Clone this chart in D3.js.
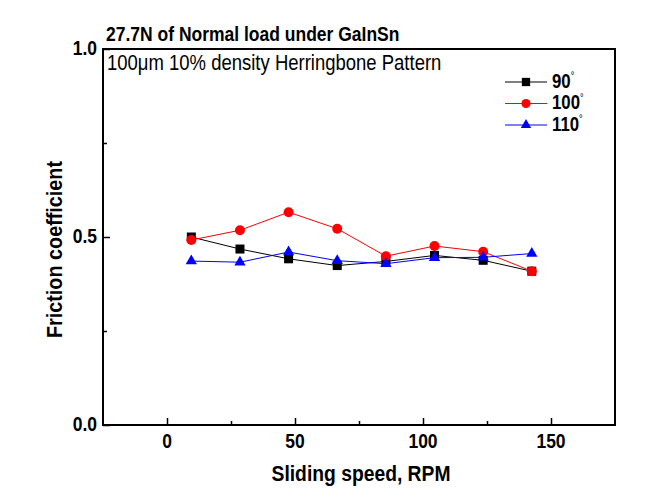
<!DOCTYPE html>
<html><head><meta charset="utf-8">
<script src="https://cdn.jsdelivr.net/npm/d3@7"></script>
<style>body{margin:0;background:#fff;} svg{display:block;font-family:"Liberation Sans",Arial,sans-serif;}</style>
</head><body>
<svg id="c" width="660" height="500"></svg>
<script>
const speeds = [9.5, 28.5, 47.5, 66.5, 85.5, 104.5, 123.5, 142.5];
const s90  = [0.500, 0.468, 0.442, 0.424, 0.435, 0.451, 0.438, 0.409];
const s100 = [0.492, 0.518, 0.566, 0.522, 0.449, 0.476, 0.461, 0.409];
const s110 = [0.436, 0.433, 0.460, 0.437, 0.429, 0.445, 0.446, 0.456];
const seriesNames = ["90", "100", "110"];
const seriesColors = ["#000000", "#ff0000", "#0000ff"];
const seriesShapes = ["square", "circle", "triangle"];
const xTicks = [0, 50, 100, 150];
const xMinor = [25, 75, 125];
const yTicks = [0.0, 0.5, 1.0];
const yMinor = [0.25, 0.75];

const svg = d3.select("#c");
const L = 103, R = 615, T = 49, B = 425;
const x = d3.scaleLinear().domain([-25, 175]).range([L, R]);
const y = d3.scaleLinear().domain([0, 1]).range([B, T]);
const K = 1.15; // vertical glyph stretch

function stext(px, py, size, weight, str, anchor, rot) {
  const g = svg.append("g").attr("transform", `translate(${px},${py})` + (rot ? ` rotate(${rot})` : "") + ` scale(1,${K})`);
  return g.append("text").attr("font-size", size).attr("font-weight", weight)
    .attr("text-anchor", anchor || "start").text(str);
}

// title
stext(106, 40.5, 17.5, "bold", "27.7N of Normal load under GaInSn");

// frame
svg.append("rect").attr("x", L).attr("y", T).attr("width", R - L).attr("height", B - T)
  .attr("fill", "none").attr("stroke", "#000").attr("stroke-width", 2);

// x axis ticks (inward)
const xa = svg.append("g").attr("transform", `translate(0,${B})`)
  .call(d3.axisBottom(x).tickValues(xTicks).tickSize(-7).tickFormat(""));
xa.select(".domain").remove();
xa.selectAll("line").attr("stroke-width", 1.5);
const xm = svg.append("g").attr("transform", `translate(0,${B})`)
  .call(d3.axisBottom(x).tickValues(xMinor).tickSize(-4).tickFormat(""));
xm.select(".domain").remove();
xm.selectAll("line").attr("stroke-width", 1.5);
xTicks.forEach(v => stext(x(v), 448, 17.5, "bold", d3.format("d")(v), "middle"));

// y axis ticks (inward)
const ya = svg.append("g").attr("transform", `translate(${L},0)`)
  .call(d3.axisLeft(y).tickValues(yTicks).tickSize(-7).tickFormat(""));
ya.select(".domain").remove();
ya.selectAll("line").attr("stroke-width", 1.5);
const ym = svg.append("g").attr("transform", `translate(${L},0)`)
  .call(d3.axisLeft(y).tickValues(yMinor).tickSize(-4).tickFormat(""));
ym.select(".domain").remove();
ym.selectAll("line").attr("stroke-width", 1.5);
yTicks.forEach(v => stext(97, y(v) + 6, 17.5, "bold", d3.format(".1f")(v), "end"));

// axis titles
stext(361, 480.5, 19.3, "bold", "Sliding speed, RPM", "middle");
stext(61.5, 249.5, 19.8, "bold", "Friction coefficient", "middle", -90);

// inner annotation
stext(107, 70, 18.5, "normal", "100\u03bcm 10% density Herringbone Pattern");

const all = [s90, s100, s110];
function marker(g, shape, color, cx, cy, sc) {
  sc = sc || 1;
  if (shape === "square") g.append("rect").attr("x", cx - 4.5 * sc).attr("y", cy - 4.5 * sc).attr("width", 9 * sc).attr("height", 9 * sc).attr("fill", color);
  else if (shape === "circle") g.append("circle").attr("cx", cx).attr("cy", cy).attr("r", 5 * sc).attr("fill", color);
  else g.append("path").attr("d", d3.symbol(d3.symbolTriangle, 55 * sc * sc)()).attr("transform", `translate(${cx},${cy})`).attr("fill", color);
}
const line = d3.line().x(d => x(d[0])).y(d => y(d[1]));
all.forEach((vals, i) => {
  const pts = speeds.map((s, j) => [s, vals[j]]);
  svg.append("path").datum(pts).attr("d", line).attr("fill", "none").attr("stroke", seriesColors[i]).attr("stroke-width", 1);
});
all.forEach((vals, i) => {
  const g = svg.append("g");
  speeds.forEach((s, j) => marker(g, seriesShapes[i], seriesColors[i], x(s), y(vals[j])));
});

// legend
const ly = [82, 103.5, 125];
seriesNames.forEach((n, i) => {
  svg.append("line").attr("x1", 505).attr("x2", 547).attr("y1", ly[i]).attr("y2", ly[i]).attr("stroke", seriesColors[i]).attr("stroke-width", 1);
  marker(svg, seriesShapes[i], seriesColors[i], 526, ly[i], 0.92);
  const t = stext(552, ly[i] + 5.5, 16.8, "bold", "");
  t.append("tspan").text(n);
  t.append("tspan").attr("font-size", 9).attr("font-weight", "normal").attr("dy", -7).text("\u00b0");
});
</script>
</body></html>
